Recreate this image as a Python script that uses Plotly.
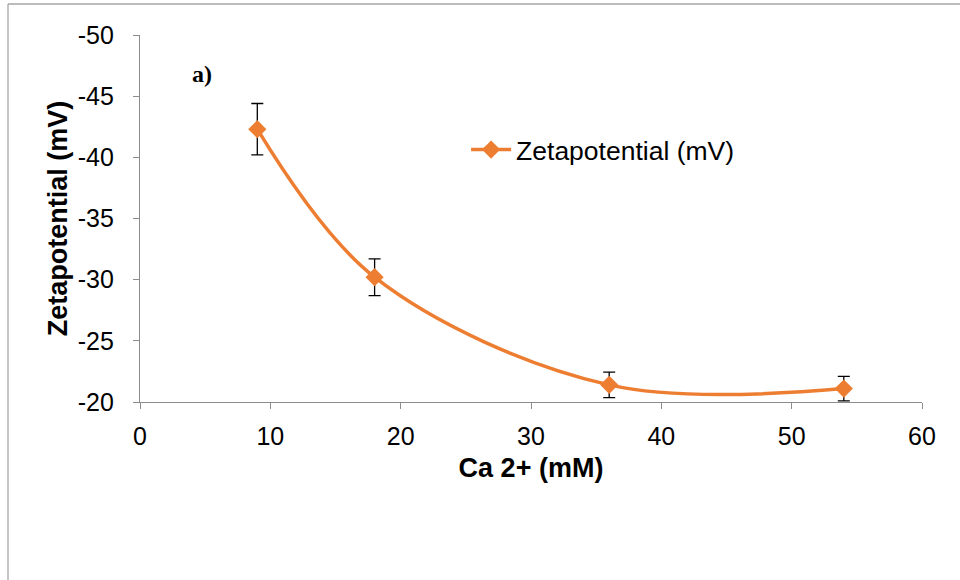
import plotly.graph_objects as go

# Ca2+ concentration (mM) and measured zeta potential (mV)
ca_mM = [9, 18, 36, 54]
zeta_mV = [-42.3, -30.2, -21.4, -21.1]
zeta_err = [2.1, 1.5, 1.05, 1.0]

x_ticks = [0, 10, 20, 30, 40, 50, 60]
y_ticks = [-50, -45, -40, -35, -30, -25, -20]

ORANGE = "#ED7D31"
AXIS_GRAY = "#8C8C8C"

fig = go.Figure()
fig.add_trace(go.Scatter(
    x=ca_mM, y=zeta_mV,
    mode="lines+markers",
    name="Zetapotential (mV)",
    line=dict(color=ORANGE, width=3.5, shape="spline", smoothing=1.0),
    marker=dict(symbol="diamond", size=14, color=ORANGE),
    error_y=dict(type="data", array=zeta_err, visible=True,
                 color="black", thickness=1.3, width=6),
))

axis_font = dict(family="Liberation Sans, Arial", size=25, color="black")
title_font = dict(family="Liberation Sans, Arial", size=27, color="black")

fig.update_layout(
    width=960, height=580,
    margin=dict(l=140, r=38, t=35, b=178),
    paper_bgcolor="white", plot_bgcolor="white",
    showlegend=True,
    legend=dict(x=0.417, y=0.687, xanchor="left", yanchor="middle",
                font=dict(family="Liberation Sans, Arial", size=26.5, color="black"),
                bgcolor="rgba(0,0,0,0)", itemwidth=40),
    xaxis=dict(
        range=[0, 60], tickvals=x_ticks, ticktext=[str(v) for v in x_ticks],
        showgrid=False, zeroline=False,
        showline=True, linecolor=AXIS_GRAY, linewidth=1.3,
        ticks="outside", ticklen=6, tickcolor=AXIS_GRAY, tickwidth=1.3,
        tickfont=axis_font, ticklabelstandoff=6,
        title=dict(text="<b>Ca 2+ (mM)</b>", font=title_font, standoff=8),
    ),
    yaxis=dict(
        range=[-20, -50], tickvals=y_ticks, ticktext=[str(v) for v in y_ticks],
        showgrid=False, zeroline=False,
        showline=True, linecolor=AXIS_GRAY, linewidth=1.3,
        ticks="outside", ticklen=6, tickcolor=AXIS_GRAY, tickwidth=1.3,
        tickfont=axis_font, ticklabelstandoff=14,
        title=dict(text="<b>Zetapotential (mV)</b>", font=title_font, standoff=2),
    ),
)

# Panel label
fig.add_annotation(
    x=0.064, y=0.895, xref="paper", yref="paper", showarrow=False,
    text="<b>a)</b>", xanchor="left", yanchor="middle",
    font=dict(family="Liberation Serif, Times New Roman", size=24, color="black"),
)

# Outer chart-area frame (top and left edges visible)
x0 = (8 - 140) / 782
y_top = 1 + (35 - 4) / 367
fig.add_shape(type="line", xref="paper", yref="paper",
              x0=x0, x1=1.2, y0=y_top, y1=y_top,
              line=dict(color="#A6A6A6", width=1.3))
fig.add_shape(type="line", xref="paper", yref="paper",
              x0=x0, x1=x0, y0=y_top, y1=-0.6,
              line=dict(color="#A6A6A6", width=1.3))

fig.write_html("out.html")
